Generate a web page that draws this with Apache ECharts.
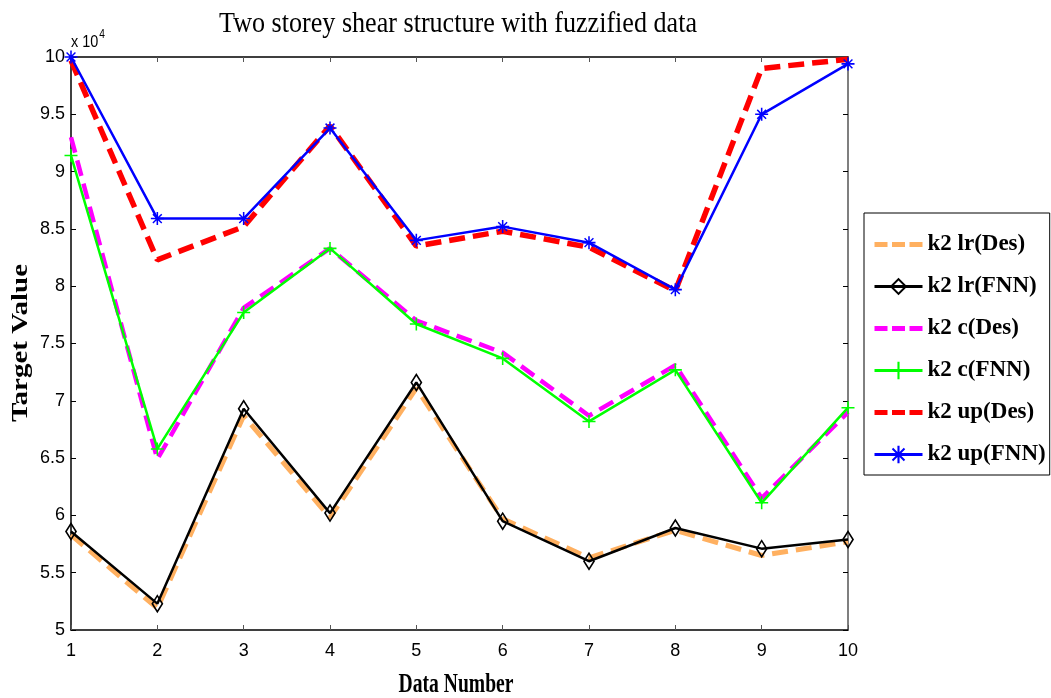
<!DOCTYPE html>
<html>
<head>
<meta charset="utf-8">
<script src="https://cdn.jsdelivr.net/npm/echarts@6/dist/echarts.min.js"></script>
<style>
  html, body { margin: 0; padding: 0; background: #fff; }
  #chart { width: 1051px; height: 698px; }
</style>
</head>
<body>
<div id="chart"></div>
<script>
// Data numbers along the x axis
const dataNumbers = ['1', '2', '3', '4', '5', '6', '7', '8', '9', '10'];

// Target values, in units of 10^4
const k2LrDes  = [5.83, 5.19, 6.87, 5.98, 7.11, 5.97, 5.63, 5.87, 5.65, 5.77];
const k2LrFnn  = [5.86, 5.23, 6.93, 6.02, 7.16, 5.95, 5.60, 5.89, 5.71, 5.79];
const k2CDes   = [9.30, 6.49, 7.81, 8.33, 7.70, 7.42, 6.87, 7.31, 6.15, 6.90];
const k2CFnn   = [9.14, 6.58, 7.77, 8.33, 7.67, 7.37, 6.82, 7.27, 6.11, 6.94];
const k2UpDes  = [9.97, 8.23, 8.52, 9.40, 8.35, 8.48, 8.34, 7.96, 9.90, 9.98];
const k2UpFnn  = [10.0, 8.59, 8.59, 9.38, 8.40, 8.52, 8.38, 7.97, 9.50, 9.94];

const yTicks = { min: 5, max: 10, step: 0.5 };

const serif = 'Liberation Serif, Times New Roman, serif';
const sans = 'Liberation Sans, Arial, sans-serif';

// Marker shapes: open diamond, thin plus and asterisk
const diamondSymbol = 'path://M5,0L10,9L5,18L0,9Z M5,2.8L1.6,9L5,15.2L8.4,9Z';
const plusSymbol = 'path://M4.4,0h1.2v4.4h4.4v1.2h-4.4v4.4h-1.2v-4.4h-4.4v-1.2h4.4z';
const starSymbol = 'path://M4.4,0h1.2v10h-1.2z M0,4.4h10v1.2h-10z ' +
  'M1.2,2.0L2.0,1.2L8.8,8.0L8.0,8.8z M8.0,1.2L8.8,2.0L2.0,8.8L1.2,8.0z';
// Legend icon for the dashed series: three dashes on a 48x22 box
const dashIcon = 'path://M0,0h0.01v0.01h-0.01z M0,8.5h13v5h-13z M17.5,8.5h13v5h-13z ' +
  'M35,8.5h13v5h-13z M47.99,21.99h0.01v0.01h-0.01z';

const chart = echarts.init(document.getElementById('chart'));

function lineSeries(name, data, color, width, dashed, symbol, symbolSize) {
  return {
    name: name,
    type: 'line',
    data: data,
    xAxisIndex: 0,
    yAxisIndex: 0,
    symbol: symbol || 'none',
    symbolSize: symbolSize || 0,
    showSymbol: !!symbol,
    clip: false,
    lineStyle: { color: color, width: width, type: dashed ? [16, 8] : 'solid' },
    itemStyle: { color: color },
    emphasis: { disabled: true },
    animation: false
  };
}

const series = [
  lineSeries('k2 lr(Des)', k2LrDes, '#ffb060', 5, true),
  lineSeries('k2 lr(FNN)', k2LrFnn, '#000000', 2.5, false, diamondSymbol, [12, 19]),
  lineSeries('k2 c(Des)', k2CDes, '#ff00ff', 4.5, true),
  lineSeries('k2 c(FNN)', k2CFnn, '#00ff00', 2.5, false, plusSymbol, 13),
  lineSeries('k2 up(Des)', k2UpDes, '#ff0000', 5.5, true),
  lineSeries('k2 up(FNN)', k2UpFnn, '#0000ff', 2.5, false, starSymbol, 13)
];

const legendLine = { width: 3 };

chart.setOption({
  backgroundColor: '#fff',
  animation: false,
  grid: { left: 71, right: 203, top: 57, bottom: 68, outerBoundsMode: 'none', containLabel: false },
  legend: {
    orient: 'vertical',
    left: 864,
    top: 213,
    padding: [20, 4, 9, 9],
    itemGap: 19,
    itemWidth: 48,
    itemHeight: 22,
    backgroundColor: '#fff',
    borderColor: '#000',
    borderWidth: 1,
    borderRadius: 0,
    selectedMode: false,
    textStyle: { fontFamily: serif, fontSize: 23, fontWeight: 'bold', color: '#000', padding: [0, 0, 0, 0] },
    data: [
      { name: 'k2 lr(Des)', icon: dashIcon },
      { name: 'k2 lr(FNN)', lineStyle: legendLine },
      { name: 'k2 c(Des)', icon: dashIcon },
      { name: 'k2 c(FNN)', lineStyle: legendLine },
      { name: 'k2 up(Des)', icon: dashIcon },
      { name: 'k2 up(FNN)', lineStyle: legendLine }
    ]
  },
  xAxis: [
    {
      type: 'category',
      data: dataNumbers,
      boundaryGap: false,
      position: 'bottom',
      axisLine: { lineStyle: { color: '#000', width: 1.5 } },
      axisTick: { inside: true, length: 5, lineStyle: { color: '#555' } },
      axisLabel: { fontFamily: sans, fontSize: 18, color: '#000', margin: 12 },
      splitLine: { show: false }
    },
    {
      type: 'category',
      data: dataNumbers,
      boundaryGap: false,
      position: 'top',
      axisLine: { lineStyle: { color: '#000', width: 1.5 } },
      axisTick: { inside: true, length: 5, lineStyle: { color: '#555' } },
      axisLabel: { show: false },
      splitLine: { show: false }
    }
  ],
  yAxis: [
    {
      type: 'value',
      min: yTicks.min,
      max: yTicks.max,
      interval: yTicks.step,
      position: 'left',
      axisLine: { show: true, lineStyle: { color: '#000', width: 1.5 } },
      axisTick: { show: true, inside: true, length: 5, lineStyle: { color: '#000' } },
      axisLabel: { fontFamily: sans, fontSize: 18, color: '#000', margin: 6 },
      splitLine: { show: false }
    },
    {
      type: 'value',
      min: yTicks.min,
      max: yTicks.max,
      interval: yTicks.step,
      position: 'right',
      axisLine: { show: true, lineStyle: { color: '#555', width: 1.5 } },
      axisTick: { show: true, inside: true, length: 5, lineStyle: { color: '#000' } },
      axisLabel: { show: false },
      splitLine: { show: false }
    }
  ],
  graphic: [
    {
      // chart title, in a tall condensed serif
      type: 'text',
      x: 458,
      y: 24,
      scaleX: 0.87,
      style: {
        text: 'Two storey shear structure with fuzzified data',
        fontFamily: serif,
        fontSize: 30,
        fill: '#000',
        textAlign: 'center',
        textVerticalAlign: 'middle'
      }
    },
    {
      // x axis title
      type: 'text',
      x: 456,
      y: 685,
      scaleX: 0.7,
      style: {
        text: 'Data Number',
        fontFamily: serif,
        fontSize: 28,
        fontWeight: 'bold',
        fill: '#000',
        textAlign: 'center',
        textVerticalAlign: 'middle'
      }
    },
    {
      // y axis title, rotated
      type: 'text',
      x: 21,
      y: 343,
      rotation: Math.PI / 2,
      scaleY: 0.77,
      style: {
        text: 'Target Value',
        fontFamily: serif,
        fontSize: 29,
        fontWeight: 'bold',
        fill: '#000',
        textAlign: 'center',
        textVerticalAlign: 'middle'
      }
    },
    {
      // exponent of the y axis
      type: 'text',
      x: 71,
      y: 29,
      scaleX: 0.85,
      style: {
        text: '{b|x 10}{s|4}',
        rich: {
          b: { fontFamily: sans, fontSize: 17, fill: '#000', verticalAlign: 'bottom', lineHeight: 22 },
          s: { fontFamily: sans, fontSize: 12, fill: '#000', verticalAlign: 'top', lineHeight: 22, padding: [0, 0, 10, 1] }
        }
      }
    }
  ],
  series: series
});
</script>
</body>
</html>
